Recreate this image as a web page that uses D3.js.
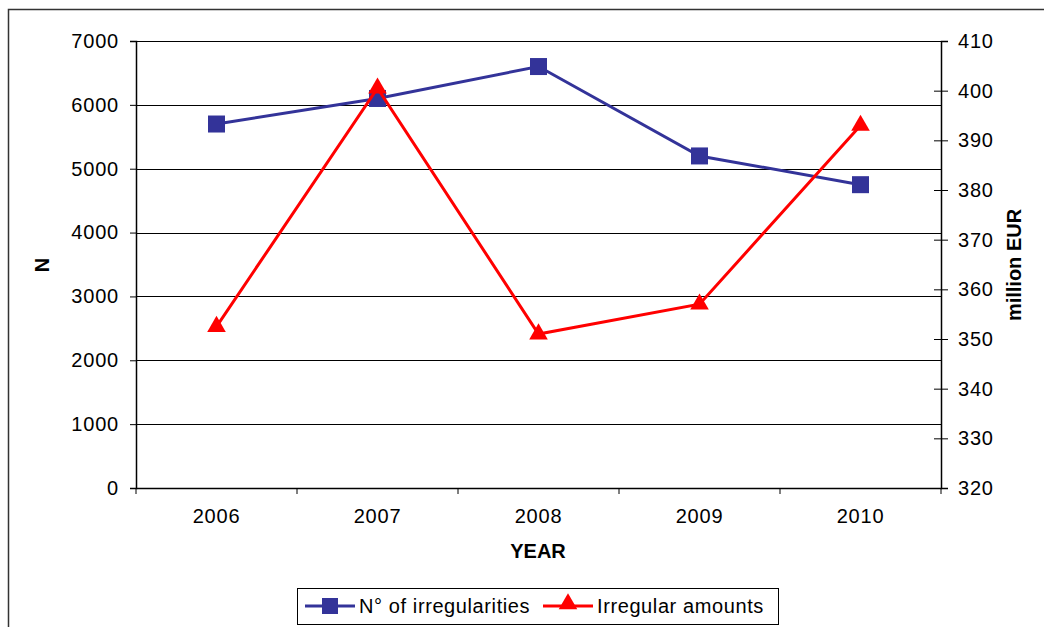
<!DOCTYPE html>
<html>
<head>
<meta charset="utf-8">
<script src="https://cdn.jsdelivr.net/npm/d3@7"></script>
<style>
  body { margin: 0; background: #fff; }
  svg text { font-family: "Liberation Sans", Arial, sans-serif; fill: #000; }
</style>
</head>
<body>
<svg id="chart" width="1044" height="627"></svg>
<script>
(function () {
  'use strict';

  var years = ['2006', '2007', '2008', '2009', '2010'];
  var irregularities = [5700, 6100, 6600, 5200, 4750];
  var amounts = [352.5, 400.5, 351, 357, 393];
  var leftTicks = [0, 1000, 2000, 3000, 4000, 5000, 6000, 7000];
  var rightTicks = [320, 330, 340, 350, 360, 370, 380, 390, 400, 410];

  var blue = '#333399';
  var red = '#ff0000';

  var margin = { top: 41, left: 136, right: 103, bottom: 139 };
  var width = 1044 - margin.left - margin.right;
  var height = 627 - margin.top - margin.bottom;

  var svg = d3.select('#chart');

  // outer frame
  svg.append('path')
    .attr('d', 'M8.5,640V9.5H1050')
    .attr('fill', 'none')
    .attr('stroke', '#333')
    .attr('stroke-width', 1.5);

  var g = svg.append('g')
    .attr('transform', 'translate(' + margin.left + ',' + margin.top + ')');

  var x = d3.scaleBand().domain(years).range([0, width]);
  var y = d3.scaleLinear().domain([0, 7000]).range([height, 0]);
  var y2 = d3.scaleLinear().domain([320, 410]).range([height, 0]);

  // gridlines
  g.selectAll('.grid')
    .data(leftTicks.slice(1))
    .enter()
    .append('line')
    .attr('x1', 0)
    .attr('x2', width)
    .attr('y1', function (d) { return Math.round(y(d)) + 0.5; })
    .attr('y2', function (d) { return Math.round(y(d)) + 0.5; })
    .attr('stroke', '#000')
    .attr('stroke-width', 1);

  // left axis
  var yAxis = g.append('g')
    .call(d3.axisLeft(y).tickValues(leftTicks).tickFormat(d3.format('d'))
      .tickSize(6).tickPadding(11));

  // right axis, ticks cross the line
  var y2Axis = g.append('g')
    .attr('transform', 'translate(' + width + ',0)')
    .call(d3.axisRight(y2).tickValues(rightTicks).tickSize(7).tickPadding(10));
  y2Axis.selectAll('.tick line').attr('x1', -7);

  // bottom axis, ticks between categories
  var xAxis = g.append('g')
    .attr('transform', 'translate(0,' + height + ')')
    .call(d3.axisBottom(x).tickSize(0).tickPadding(21));
  xAxis.selectAll('.sep')
    .data(d3.range(years.length + 1))
    .enter()
    .append('line')
    .attr('x1', function (i) { return i * x.step(); })
    .attr('x2', function (i) { return i * x.step(); })
    .attr('y1', 0)
    .attr('y2', 6)
    .attr('stroke', '#000');

  [yAxis, y2Axis, xAxis].forEach(function (a) {
    a.attr('font-size', null).attr('font-family', null);
    a.selectAll('text').style('font-size', '20px').style('letter-spacing', '0.8px');
    a.select('.domain').attr('stroke', '#000').attr('stroke-width', 1.5);
    a.selectAll('line').attr('stroke', '#000');
  });

  // axis titles
  svg.append('text')
    .attr('transform', 'translate(49,265) rotate(-90)')
    .attr('text-anchor', 'middle')
    .style('font-size', '20px')
    .style('font-weight', 'bold')
    .text('N');

  svg.append('text')
    .attr('transform', 'translate(1021,265) rotate(-90)')
    .attr('text-anchor', 'middle')
    .style('font-size', '20px')
    .style('font-weight', 'bold')
    .text('million EUR');

  svg.append('text')
    .attr('x', 538)
    .attr('y', 558)
    .attr('text-anchor', 'middle')
    .style('font-size', '20px')
    .style('font-weight', 'bold')
    .text('YEAR');

  var cx = function (i) { return x(years[i]) + x.bandwidth() / 2; };

  // N of irregularities
  g.append('path')
    .datum(irregularities)
    .attr('fill', 'none')
    .attr('stroke', blue)
    .attr('stroke-width', 3)
    .attr('d', d3.line()
      .x(function (d, i) { return cx(i); })
      .y(function (d) { return y(d); }));

  g.selectAll('.sq')
    .data(irregularities)
    .enter()
    .append('rect')
    .attr('x', function (d, i) { return cx(i) - 8.5; })
    .attr('y', function (d) { return y(d) - 8.5; })
    .attr('width', 17)
    .attr('height', 17)
    .attr('fill', blue);

  // irregular amounts
  g.append('path')
    .datum(amounts)
    .attr('fill', 'none')
    .attr('stroke', red)
    .attr('stroke-width', 3)
    .attr('d', d3.line()
      .x(function (d, i) { return cx(i); })
      .y(function (d) { return y2(d); }));

  var tri = d3.symbol().type(d3.symbolTriangle).size(150);
  g.selectAll('.tri')
    .data(amounts)
    .enter()
    .append('path')
    .attr('transform', function (d, i) {
      return 'translate(' + cx(i) + ',' + y2(d) + ')';
    })
    .attr('d', tri)
    .attr('fill', red);

  // legend
  var lg = svg.append('g');
  lg.append('rect')
    .attr('x', 297.5)
    .attr('y', 588.5)
    .attr('width', 481)
    .attr('height', 36)
    .attr('fill', '#fff')
    .attr('stroke', '#000');

  var items = [
    { name: 'N° of irregularities', color: blue, x0: 305, shape: 'sq' },
    { name: 'Irregular amounts', color: red, x0: 543, shape: 'tri' }
  ];
  items.forEach(function (it) {
    lg.append('line')
      .attr('x1', it.x0)
      .attr('x2', it.x0 + 50)
      .attr('y1', 606)
      .attr('y2', 606)
      .attr('stroke', it.color)
      .attr('stroke-width', 3);
    if (it.shape === 'sq') {
      lg.append('rect')
        .attr('x', it.x0 + 25 - 8)
        .attr('y', 606 - 8)
        .attr('width', 16)
        .attr('height', 16)
        .attr('fill', it.color);
    } else {
      lg.append('path')
        .attr('transform', 'translate(' + (it.x0 + 25) + ',604)')
        .attr('d', tri)
        .attr('fill', it.color);
    }
    lg.append('text')
      .attr('x', it.x0 + 54)
      .attr('y', 613)
      .style('font-size', '20px')
      .style('letter-spacing', '0.6px')
      .text(it.name);
  });
}());
</script>
</body>
</html>
